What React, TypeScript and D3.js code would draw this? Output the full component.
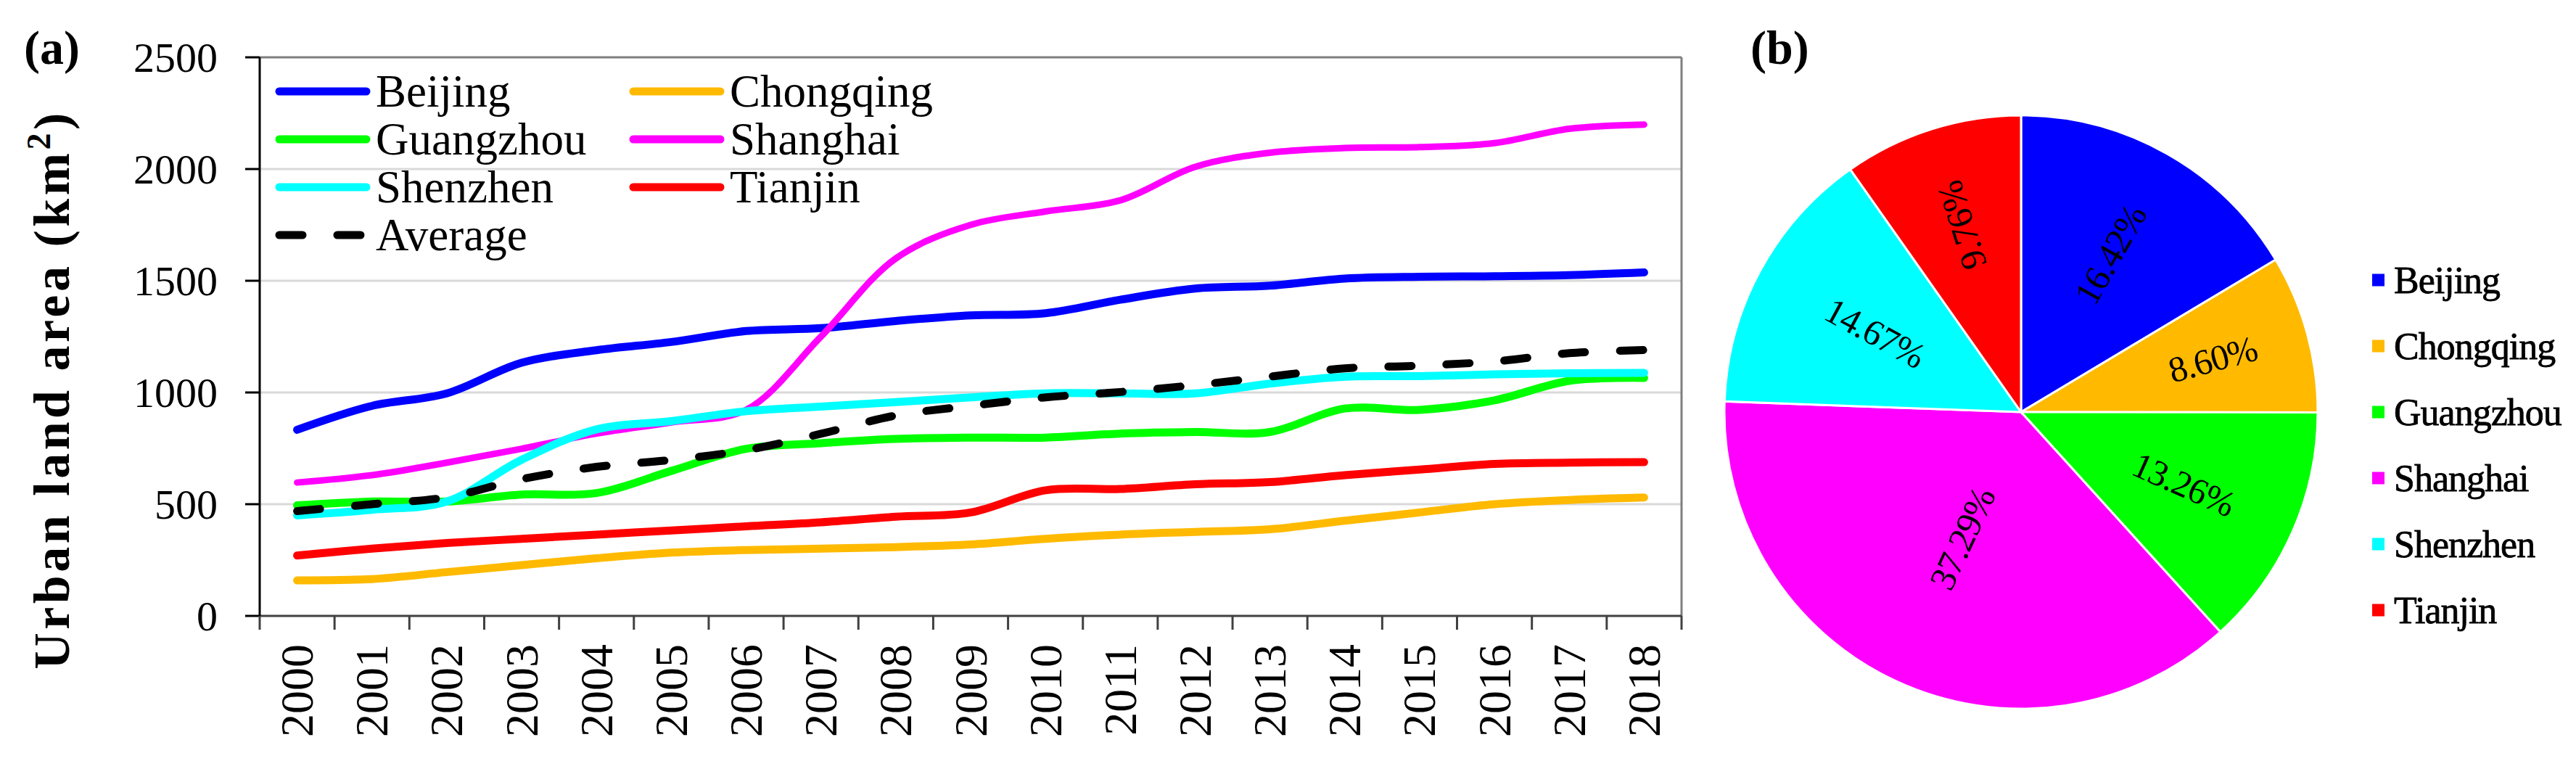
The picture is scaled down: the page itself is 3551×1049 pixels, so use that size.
import { scaleBand, scaleLinear, line, curveCatmullRom, pie, arc } from 'd3'
import type { PieArcDatum } from 'd3'

// ---- data ----
const years = ['2000', '2001', '2002', '2003', '2004', '2005', '2006', '2007', '2008', '2009',
  '2010', '2011', '2012', '2013', '2014', '2015', '2016', '2017', '2018']

const beijing = [833, 940, 996, 1133, 1189, 1226, 1275, 1288, 1320, 1345, 1355, 1415, 1465, 1478, 1510, 1518, 1520, 1525, 1537]
const chongqing = [159, 165, 196, 227, 258, 283, 295, 301, 308, 320, 345, 364, 376, 388, 426, 463, 500, 519, 530]
const guangzhou = [495, 512, 512, 543, 550, 649, 748, 773, 792, 798, 798, 816, 823, 823, 928, 922, 965, 1052, 1065]
const shanghai = [597, 630, 686, 748, 816, 866, 922, 1250, 1600, 1750, 1810, 1860, 2010, 2073, 2094, 2098, 2116, 2180, 2199]
const shenzhen = [450, 475, 512, 699, 835, 872, 916, 937, 957, 978, 996, 996, 996, 1040, 1071, 1073, 1081, 1086, 1088]
const tianjin = [270, 301, 326, 345, 364, 382, 401, 419, 444, 463, 562, 568, 589, 599, 630, 655, 680, 686, 688]
const average = [469, 500, 531, 612, 667, 698, 742, 815, 897, 940, 978, 1002, 1033, 1071, 1108, 1120, 1139, 1176, 1190]

const yTicks = [0, 500, 1000, 1500, 2000, 2500]

const cities = ['Beijing', 'Chongqing', 'Guangzhou', 'Shanghai', 'Shenzhen', 'Tianjin']
const shares = [16.42, 8.60, 13.26, 37.29, 14.67, 9.76]

const cityColors = ['#0000ff', '#ffba00', '#00ff00', '#ff00ff', '#00ffff', '#ff0000']

// ---- layout ----
const W = 3551
const H = 1049
const plot = { left: 358, right: 2318, top: 79, bottom: 849 }
const pieC = { x: 2786, y: 568, r: 409 }
// how far out each pie label sits (fraction of radius)
const labelR = [0.61, 0.67, 0.6, 0.47, 0.56, 0.66]
const SERIF = '"Liberation Serif", "Times New Roman", serif'

interface Series { name: string; values: number[]; color: string; dashed?: boolean; width: number }

const series: Series[] = [
  { name: 'Beijing', values: beijing, color: cityColors[0], width: 11 },
  { name: 'Chongqing', values: chongqing, color: cityColors[1], width: 11 },
  { name: 'Guangzhou', values: guangzhou, color: cityColors[2], width: 11 },
  { name: 'Shanghai', values: shanghai, color: cityColors[3], width: 9 },
  { name: 'Shenzhen', values: shenzhen, color: cityColors[4], width: 11 },
  { name: 'Tianjin', values: tianjin, color: cityColors[5], width: 11 },
  { name: 'Average', values: average, color: '#000000', dashed: true, width: 11 },
]

// legend grid order inside plot (a)
const legendOrder = ['Beijing', 'Chongqing', 'Guangzhou', 'Shanghai', 'Shenzhen', 'Tianjin', 'Average']

export default function App() {
  const x = scaleBand<string>().domain(years).range([plot.left, plot.right]).padding(0)
  const y = scaleLinear().domain([0, 2500]).range([plot.bottom, plot.top])
  const bw = x.bandwidth()
  const cx = (yr: string) => (x(yr) ?? 0) + bw / 2

  const pathGen = line<number>()
    .x((_, i) => cx(years[i]))
    .y((d) => y(d))
    .curve(curveCatmullRom.alpha(0.5))

  const pieGen = pie<number>().sort(null).value((d) => d)
  const arcs = pieGen(shares)
  const arcGen = arc<PieArcDatum<number>>().innerRadius(0).outerRadius(pieC.r)

  const boundaries = years.map((yr) => x(yr) ?? 0).concat([plot.right])

  return (
    <div style={{ position: 'absolute', left: 0, top: 0, background: '#fff' }}>
      <svg width={W} height={H} viewBox={`0 0 ${W} ${H}`} style={{ display: 'block', fontFamily: SERIF }}>
        <rect x={0} y={0} width={W} height={H} fill="#fff" />

        {/* panel labels */}
        <text x={33} y={88} fontSize={66} fontWeight="bold">(a)</text>
        <text x={2413} y={88} fontSize={66} fontWeight="bold">(b)</text>

        {/* gridlines */}
        {yTicks.filter((t) => t > 0 && t < 2500).map((t) => (
          <line key={t} x1={plot.left} x2={plot.right} y1={y(t)} y2={y(t)} stroke="#d9d9d9" strokeWidth={3} />
        ))}
        {/* frame */}
        <line x1={plot.left} x2={plot.right} y1={y(2500)} y2={y(2500)} stroke="#7f7f7f" strokeWidth={3} />
        <line x1={plot.right} x2={plot.right} y1={plot.top} y2={plot.bottom} stroke="#7f7f7f" strokeWidth={3} />
        <line x1={plot.left} x2={plot.right} y1={plot.bottom} y2={plot.bottom} stroke="#404040" strokeWidth={3} />
        <line x1={plot.left} x2={plot.left} y1={plot.top} y2={plot.bottom} stroke="#000" strokeWidth={3} />

        {/* y ticks + labels */}
        {yTicks.map((t) => (
          <g key={t}>
            <line x1={plot.left - 20} x2={plot.left} y1={y(t)} y2={y(t)} stroke="#000" strokeWidth={3} />
            <text x={300} y={y(t)} fontSize={58} textAnchor="end" dominantBaseline="central">{t}</text>
          </g>
        ))}

        {/* x ticks at band boundaries */}
        {boundaries.map((bx, i) => (
          <line key={i} x1={bx} x2={bx} y1={plot.bottom} y2={plot.bottom + 19} stroke="#404040" strokeWidth={3} />
        ))}
        {years.map((yr) => (
          <text key={yr} transform={`translate(${cx(yr)},888) rotate(-90)`} fontSize={64}
            textAnchor="end" dominantBaseline="central">{yr}</text>
        ))}

        {/* y-axis title */}
        <text transform="translate(95,537) rotate(-90)" fontSize={70} fontWeight="bold"
          textAnchor="middle" letterSpacing={4.5}>
          Urban land area (km<tspan dy={-26} fontSize={46}>2</tspan><tspan dy={26}>)</tspan>
        </text>

        {/* lines */}
        {series.map((s) => (
          <path key={s.name} d={pathGen(s.values) ?? ''} fill="none" stroke={s.color}
            strokeWidth={s.width} strokeLinecap="round" strokeLinejoin="round"
            strokeDasharray={s.dashed ? '32 48' : undefined} />
        ))}

        {/* legend inside (a) */}
        {legendOrder.map((name, i) => {
          const s = series.find((d) => d.name === name)!
          const col = i % 2
          const row = Math.floor(i / 2)
          const lx = col === 0 ? 380 : 868
          const ly = 126 + row * 66
          return (
            <g key={name}>
              <line x1={lx + 5} x2={lx + 125} y1={ly} y2={ly} stroke={s.color} strokeWidth={11}
                strokeLinecap="round" strokeDasharray={s.dashed ? '32 48' : undefined} />
              <text x={lx + 138} y={ly} fontSize={63} dominantBaseline="central">{name}</text>
            </g>
          )
        })}

        {/* pie (b) */}
        <g transform={`translate(${pieC.x},${pieC.y})`}>
          {arcs.map((a, i) => (
            <path key={cities[i]} d={arcGen(a) ?? ''} fill={cityColors[i]} stroke="#fff" strokeWidth={3} />
          ))}
          {arcs.map((a, i) => {
            const mid = (a.startAngle + a.endAngle) / 2
            const r = pieC.r * labelR[i]
            const lx = r * Math.sin(mid)
            const ly = -r * Math.cos(mid)
            let rot = (mid * 180) / Math.PI - 90
            if (rot > 240) rot -= 360
            else if (rot > 90) rot -= 180
            return (
              <text key={cities[i]} transform={`translate(${lx},${ly}) rotate(${rot})`} fontSize={50}
                textAnchor="middle" dominantBaseline="central" letterSpacing={-1}>
                {shares[i].toFixed(2)}%
              </text>
            )
          })}
        </g>

        {/* pie legend */}
        {cities.map((c, i) => {
          const ly = 386 + i * 91
          return (
            <g key={c}>
              <rect x={3270} y={ly - 8.5} width={17} height={17} fill={cityColors[i]} />
              <text x={3300} y={ly} fontSize={52} letterSpacing={-1} dominantBaseline="central"
                stroke="#000" strokeWidth={0.8}>{c}</text>
            </g>
          )
        })}
      </svg>
    </div>
  )
}
